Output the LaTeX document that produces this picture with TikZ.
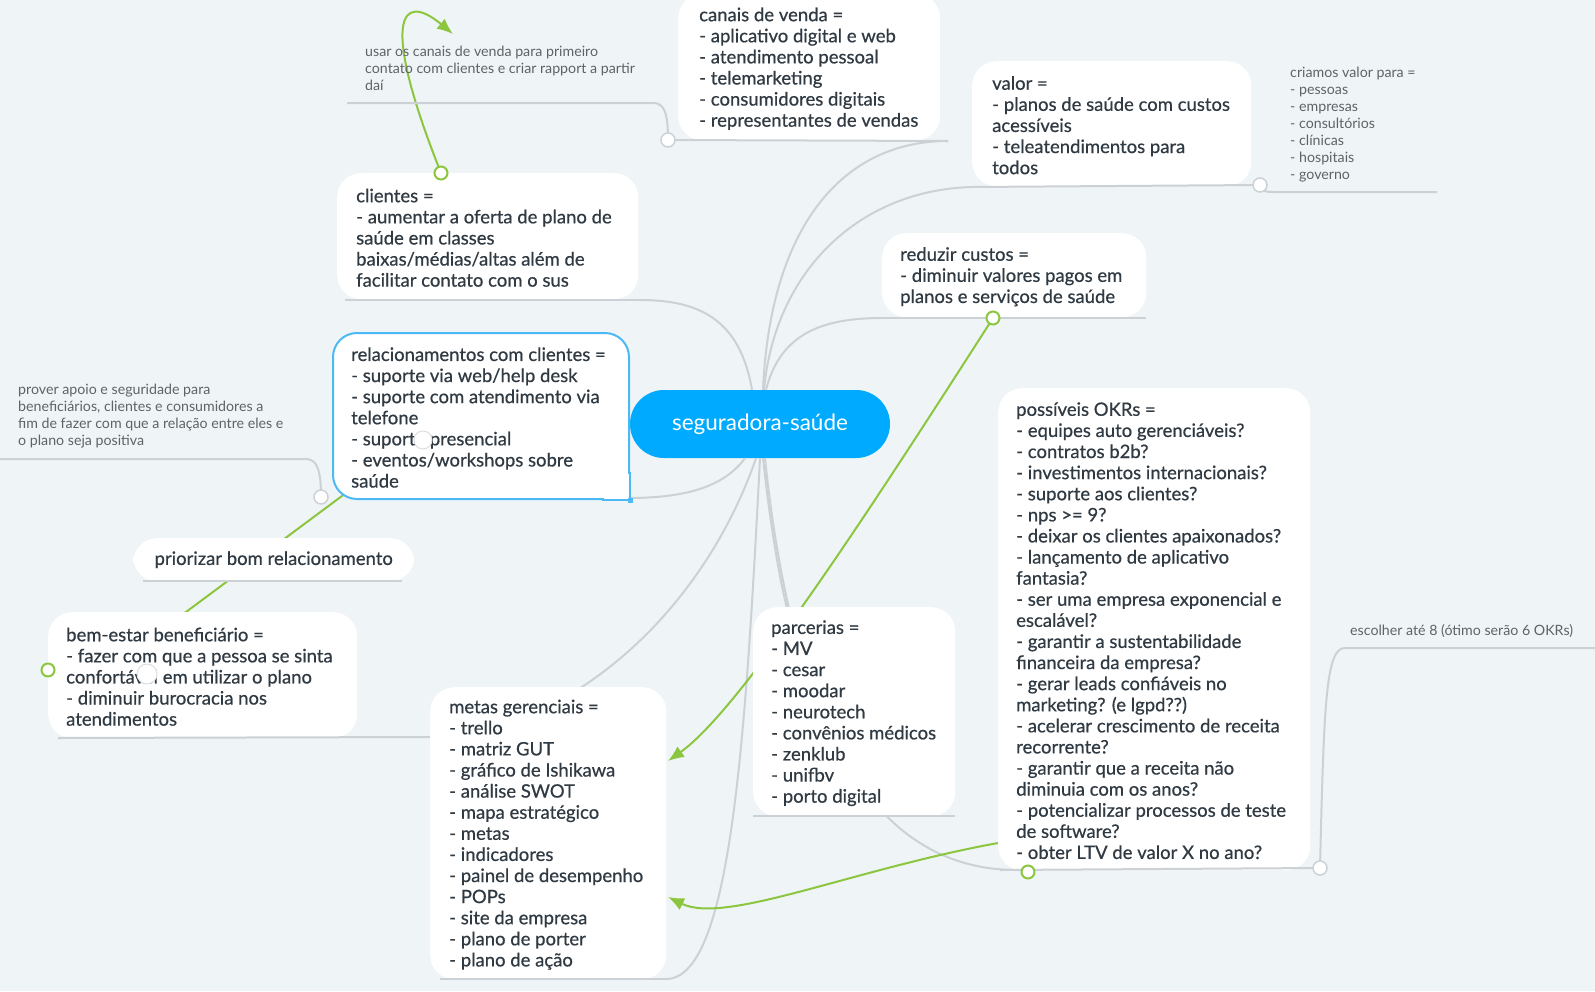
\documentclass[tikz,border=0pt]{standalone}
\usepackage{fontspec}
\setmainfont{Lato}
\newfontfamily\topicfont{Lato}[FakeBold=0.6]
\usetikzlibrary{arrows.meta}

\definecolor{bgpaper}{HTML}{EFF4F7}
\definecolor{hubblue}{HTML}{00AAFF}
\definecolor{branchgray}{HTML}{CCD1D6}
\definecolor{linkgreen}{HTML}{8CC63F}
\definecolor{inktext}{HTML}{303A43}
\definecolor{notegray}{HTML}{5F6368}
\definecolor{relblue}{HTML}{4CB9F5}
\definecolor{blotgray}{HTML}{DADEE2}

\tikzset{
  hub/.style={fill=hubblue, rounded corners=34pt, minimum width=260pt, minimum height=68pt,
    text=white, font=\fontsize{22.5}{26}\selectfont},
  topicbox/.style={fill=white, rounded corners=24pt, anchor=north west, inner sep=0pt},
  topictext/.style={anchor=west, align=left, inner sep=0pt, text=inktext, yshift=-1.5pt,
    font=\topicfont\fontsize{18.5}{21.1}\selectfont},
  note/.style={anchor=north west, align=left, inner sep=0pt, text=notegray,
    font=\fontsize{14.2}{17}\selectfont},
  branch/.style={draw=branchgray, line width=2pt},
  link/.style={draw=linkgreen, line width=2pt},
  knob/.style={circle, draw=branchgray, fill=white, line width=1.5pt, minimum size=14pt, inner sep=0pt},
  gknob/.style={circle, draw=linkgreen, fill=white, line width=2pt, minimum size=13pt, inner sep=0pt},
  blot/.style={circle, draw=blotgray, fill=white, line width=1pt, inner sep=0pt},
}

\begin{document}
\begin{tikzpicture}[x=1pt, y=-1pt, >={Latex[length=16pt,width=13pt]}]
\useasboundingbox (0,0) rectangle (1595,991);
\fill[bgpaper] (0,0) rectangle (1595,991);

% feet of the branches and ends of the links
\coordinate (canaisfoot) at (948,141);
\coordinate (valorfoot) at (972,187);
\coordinate (reduzfoot) at (882,318);
\coordinate (clientfoot) at (640,300);
\coordinate (relfoot) at (628,498);
\coordinate (bemfoot) at (427,737);
\coordinate (metasfoot) at (666,979);
\coordinate (parcfoot) at (788,612);
\coordinate (okrfoot) at (1017,870);
\coordinate (canaisdot) at (668,140);
\coordinate (valordot) at (1260,185);
\coordinate (reldot) at (321,497);
\coordinate (okrdot) at (1320,868);
\coordinate (clientlink) at (441,173);
\coordinate (reduzlink) at (993,318);
\coordinate (bemlink) at (48,670);
\coordinate (okrlink) at (1028,872);
\coordinate (rellink) at (350,490);
\coordinate (notetip) at (453,34);
\coordinate (metastip) at (668,761);
\coordinate (metastip2) at (668,897);

\node[hub] (hub) at (760,424) {seguradora-saúde};

% branches
\draw[branch] ([xshift=3pt]hub.north) .. controls (770,230) and (840,141) .. (canaisfoot);
\draw[branch] ([xshift=4pt]hub.north) .. controls (775,270) and (860,190) .. (valorfoot);
\draw[branch] ([xshift=6pt]hub.north) .. controls (780,335) and (820,318) .. (reduzfoot);
\draw[branch] ([xshift=-8pt]hub.north) .. controls (740,320) and (700,300) .. (clientfoot);
\draw[branch] ([xshift=-15pt]hub.south) .. controls (725,485) and (690,498) .. (relfoot);
\draw[branch] ([xshift=-4pt]hub.south) .. controls (700,620) and (560,737) .. (bemfoot);
\draw[branch] (hub.south) .. controls (745,750) and (730,979) .. (metasfoot);
\draw[branch] ([xshift=3pt]hub.south) .. controls (772,540) and (782,590) .. (parcfoot);
\draw[branch] ([xshift=5pt]hub.south) .. controls (790,700) and (860,870) .. (okrfoot);

% links
\draw[link, ->] (clientlink) .. controls (380,20) and (400,-10) .. (notetip);
\draw[link, ->] (reduzlink) .. controls (870,510) and (740,710) .. (metastip);
\draw[link, ->] (okrlink) .. controls (1020,850) and (1010,843) .. (998,843)
  .. controls (850,870) and (725,925) .. (metastip2);
\draw[link] (rellink) -- (186,612) .. controls (120,650) .. (bemlink);

% topics
\node[topicbox, minimum width=262pt, minimum height=146pt] (canais) at (678,-6) {};
\node[topictext] (canaistext) at ([xshift=21pt]canais.west) {canais de venda =\\- aplicativo digital e web\\- atendimento pessoal\\- telemarketing\\- consumidores digitais\\- representantes de vendas};

\node[topicbox, minimum width=279pt, minimum height=125pt] (valor) at (972,61) {};
\node[topictext] (valortext) at ([xshift=20pt]valor.west) {valor =\\- planos de saúde com custos\\acessíveis\\- teleatendimentos para\\todos};

\node[topicbox, minimum width=301pt, minimum height=126pt] (clientes) at (337,173) {};
\node[topictext] (clientestext) at ([xshift=19pt]clientes.west) {clientes =\\- aumentar a oferta de plano de\\saúde em classes\\baixas/médias/altas além de\\facilitar contato com o sus};

\node[topicbox, minimum width=264pt, minimum height=84pt] (reduz) at (882,233) {};
\node[topictext] (reduztext) at ([xshift=18pt]reduz.west) {reduzir custos =\\- diminuir valores pagos em\\planos e serviços de saúde};

\node[topicbox, draw=relblue, line width=2pt, minimum width=296pt, minimum height=166pt] (rel) at (332,332) {};
\fill[white] ([xshift=-26pt,yshift=1pt]rel.south east) rectangle ([xshift=-1pt,yshift=26pt]rel.south east);
\draw[relblue, line width=2pt] ([yshift=28pt]rel.south east) -- (rel.south east) -- ([xshift=-28pt]rel.south east);
\fill[relblue] ([xshift=-2.5pt,yshift=-2.5pt]rel.south east) rectangle ([xshift=2.5pt,yshift=2.5pt]rel.south east);
\node[topictext] (reltext) at ([xshift=19pt]rel.west) {relacionamentos com clientes =\\- suporte via web/help desk\\- suporte com atendimento via\\telefone\\- suporte presencial\\- eventos/workshops sobre\\saúde};

\node[topicbox, minimum width=281pt, minimum height=43pt, text=inktext, font=\topicfont\fontsize{18.5}{21.1}\selectfont] (prio) at (133,538) {priorizar bom relacionamento};

\node[topicbox, minimum width=309pt, minimum height=126pt] (bem) at (48,612) {};
\node[topictext] (bemtext) at ([xshift=18pt]bem.west) {bem-estar beneficiário =\\- fazer com que a pessoa se sinta\\confortável em utilizar o plano\\- diminuir burocracia nos\\atendimentos};

\node[topicbox, minimum width=236pt, minimum height=292pt] (metas) at (430,687) {};
\node[topictext] (metastext) at ([xshift=19pt]metas.west) {metas gerenciais =\\- trello\\- matriz GUT\\- gráfico de Ishikawa\\- análise SWOT\\- mapa estratégico\\- metas\\- indicadores\\- painel de desempenho\\- POPs\\- site da empresa\\- plano de porter\\- plano de ação};

\node[topicbox, minimum width=202pt, minimum height=209pt] (parc) at (753,607) {};
\node[topictext] (parctext) at ([xshift=18pt]parc.west) {parcerias =\\- MV\\- cesar\\- moodar\\- neurotech\\- convênios médicos\\- zenklub\\- unifbv\\- porto digital};

\node[topicbox, minimum width=312pt, minimum height=482pt] (okr) at (998,388) {};
\node[topictext] (okrtext) at ([xshift=18pt]okr.west) {possíveis OKRs =\\- equipes auto gerenciáveis?\\- contratos b2b?\\- investimentos internacionais?\\- suporte aos clientes?\\- nps >= 9?\\- deixar os clientes apaixonados?\\- lançamento de aplicativo\\fantasia?\\- ser uma empresa exponencial e\\escalável?\\- garantir a sustentabilidade\\financeira da empresa?\\- gerar leads confiáveis no\\marketing? (e lgpd??)\\- acelerar crescimento de receita\\recorrente?\\- garantir que a receita não\\diminuia com os anos?\\- potencializar processos de teste\\de software?\\- obter LTV de valor X no ano?};

% underlines
\draw[branch] (canaisdot) -- (canaisfoot);
\draw[branch] (valorfoot) -- (valordot);
\draw[branch] (reduzfoot) -- (1146,318);
\draw[branch] (345,300) -- (clientfoot);
\draw[branch] (58,738) -- (bemfoot);
\draw[branch] (143,581) -- (402,581);
\draw[branch] (440,979) -- (metasfoot);
\draw[branch] (753,816) -- (955,816);
\draw[branch] (1000,870) -- (okrdot);

% note lines
\draw[branch] (347,103) -- (653,103) .. controls (664,103) and (668,112) .. (canaisdot);
\draw[branch] (valordot) .. controls (1262,192) and (1266,192) .. (1276,192) -- (1437,192);
\draw[branch] (0,459) -- (306,459) .. controls (317,459) and (321,470) .. (reldot);
\draw[branch] (okrdot) .. controls (1324,700) and (1326,648) .. (1345,648) -- (1595,648);

% knobs
\node[knob] (canaisknob) at (canaisdot) {};
\node[knob] (valorknob) at (valordot) {};
\node[knob] (relknob) at (reldot) {};
\node[knob] (okrknob) at (okrdot) {};
\node[gknob] (clientknob) at (clientlink) {};
\node[gknob] (reduzknob) at (reduzlink) {};
\node[gknob] (bemknob) at (bemlink) {};
\node[gknob] (okrgknob) at (okrlink) {};
\node[blot, minimum size=18pt] (relblot) at (423,440) {};
\node[blot, minimum size=20pt] (bemblot) at (147,674) {};

% notes
\node[note] (canaisnote) at (365,46) {usar os canais de venda para primeiro\\contato com clientes e criar rapport a partir\\daí};
\node[note] (valornote) at (1290,67) {criamos valor para =\\- pessoas\\- empresas\\- consultórios\\- clínicas\\- hospitais\\- governo};
\node[note] (relnote) at (18,384) {prover apoio e seguridade para\\beneficiários, clientes e consumidores a\\fim de fazer com que a relação entre eles e\\o plano seja positiva};
\node[note] (okrnote) at (1350,624) {escolher até 8 (ótimo serão 6 OKRs)};
\end{tikzpicture}
\end{document}
